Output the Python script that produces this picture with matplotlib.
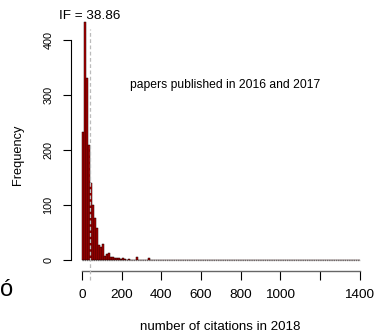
import numpy as np
import matplotlib
matplotlib.use("Agg")
import matplotlib.pyplot as plt

plt.rcParams['font.family'] = ['Liberation Sans', 'DejaVu Sans']

# histogram: bin width 10 citations, from 0 to 1400
bin_width = 10
bin_starts_nonzero = [0, 10, 20, 30, 40, 50, 60, 70, 80, 90, 100, 110, 120, 130, 140,
                      150, 160, 170, 180, 190, 200, 210, 220, 230, 240, 260, 270, 290,
                      330, 340, 510, 730, 1340]
counts_nonzero = [232, 432, 331, 210, 141, 100, 76, 58, 28, 24, 29, 7, 11, 13, 5,
                  5, 4, 3, 4, 2, 3, 2, 1, 2, 1, 1, 5, 1,
                  3, 1, 1, 1, 1]
impact_factor = 38.86
x_ticks = [0, 200, 400, 600, 800, 1000, 1200, 1400]
x_ticklabels = ['0', '200', '400', '600', '800', '1000', '', '1400']
y_ticks = [0, 100, 200, 300, 400]

edges = np.arange(0, 1400, bin_width)
counts = np.zeros(len(edges))
for s, c in zip(bin_starts_nonzero, counts_nonzero):
    counts[s // bin_width] = c

W, H = 374, 335
fig = plt.figure(figsize=(W / 100, H / 100), dpi=100)
l, r, t, b = 71.2, 370.6, 12.8, 270.6
ax = fig.add_axes([l / W, 1 - b / H, (r - l) / W, (b - t) / H])
ax.set_xlim(-56, 1456)
ax.set_ylim(-19, 449.5)

ax.bar(edges, counts, width=bin_width, align='edge', color='#B00000',
       edgecolor='#1a0000', linewidth=0.35, zorder=2)
ax.plot([0, 1400], [0, 0], color='#888888', lw=1.0, ls=(0, (1, 0.6)), zorder=1)

ax.plot([impact_factor, impact_factor], [-36, 420], color='#bbbbbb', lw=0.9,
        ls=(0, (3, 2)), clip_on=False, zorder=3)
ax.text(impact_factor, 433, 'IF = 38.86', ha='center', va='bottom', fontsize=9.7)
ax.text(0.515, 0.72, 'papers published in 2016 and 2017', transform=ax.transAxes,
        ha='center', va='center', fontsize=8.7)

for side in ['top', 'right']:
    ax.spines[side].set_visible(False)
ax.spines['left'].set_bounds(0, 400)
ax.spines['bottom'].set_bounds(0, 1400)
ax.spines['left'].set_linewidth(0.8)
ax.spines['bottom'].set_linewidth(1.0)
ax.spines['bottom'].set_color('#666666')

ax.set_xticks(x_ticks)
ax.set_xticklabels(x_ticklabels)
ax.set_yticks(y_ticks)
ax.set_yticklabels([str(v) for v in y_ticks], rotation=90, va='center')
ax.tick_params(axis='x', length=6.5, width=0.8, pad=7, labelsize=9.7)
ax.tick_params(axis='y', length=5.8, width=0.8, pad=7, labelsize=7.8)

fig.text(220 / W, 1 - 327 / H, 'number of citations in 2018', ha='center', va='center', fontsize=9.6)
fig.text(18 / W, 1 - 155 / H, 'Frequency', ha='center', va='center', rotation=90, fontsize=9.2)
fig.text(7 / W, 1 - 290 / H, 'ó', ha='center', va='center', fontsize=17)

fig.savefig('out.png', dpi=100)
